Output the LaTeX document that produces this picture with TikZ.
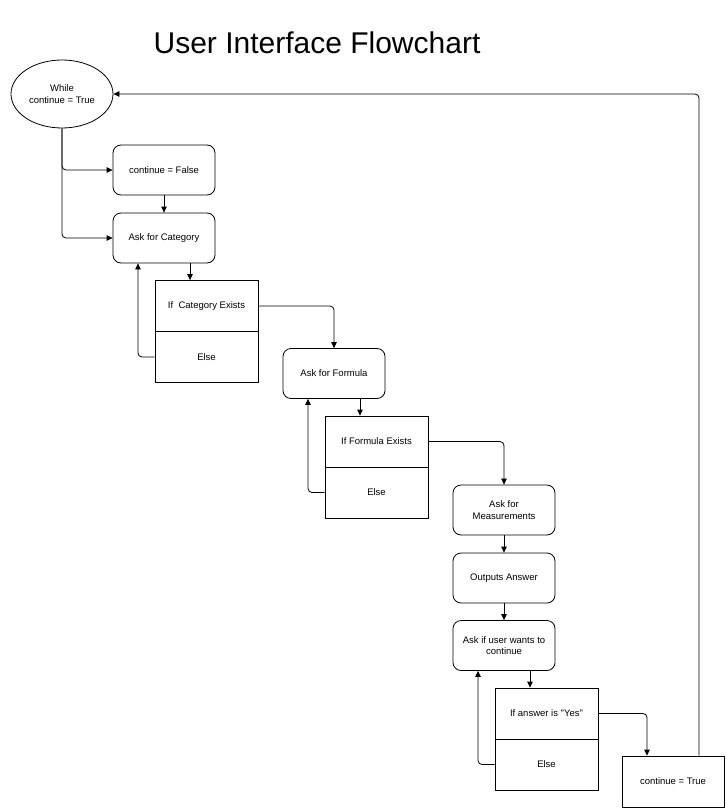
\documentclass[tikz,border=0pt]{standalone}
\usepackage{fontspec}
\setmainfont{Liberation Sans}[Ligatures=TeXOff]
\usepackage{tikz}
\usetikzlibrary{calc}
\usetikzlibrary{shapes.geometric}
\usetikzlibrary{arrows.meta}

\tikzset{
  every node/.style={font=\fontsize{9.5}{11.5}\selectfont, align=center},
  stepbox/.style={draw, rounded corners=8pt, minimum width=102pt, minimum height=50pt, inner sep=2pt},
  tablerow/.style={draw, minimum width=103pt, minimum height=51pt, inner sep=2pt},
  flow/.style={-{Triangle[length=6pt,width=5.5pt]}, rounded corners=4pt},
}

\begin{document}
\begin{tikzpicture}[x=1pt, y=-1pt, line width=0.8pt]
\useasboundingbox (0,0) rectangle (726,808);
\node[font=\fontsize{30}{36}\selectfont] (title) at (317,43) {User Interface Flowchart};

\node[draw, ellipse, minimum width=102pt, minimum height=68pt, inner sep=0pt] (loop) at (62,94) {While\\continue = True};
\node[stepbox] (cfalse) at (164,170) {continue = False};
\node[stepbox] (askcat) at (164,238) {Ask for Category};
\node[tablerow] (catif) at (206.5,306) {If~~Category Exists};
\node[tablerow] (catelse) at (206.5,357) {Else};
\node[stepbox] (askform) at (334,373.5) {Ask for Formula};
\node[tablerow] (formif) at (376.5,441.5) {If Formula Exists};
\node[tablerow] (formelse) at (376.5,492.5) {Else};
\node[stepbox] (askmeas) at (504,510) {Ask for\\Measurements};
\node[stepbox] (outputs) at (504,578) {Outputs Answer};
\node[stepbox] (askcont) at (504,645.5) {Ask if user wants to\\continue};
\node[tablerow] (ansif) at (546.5,713.5) {If answer is "Yes"};
\node[tablerow] (anselse) at (546.5,764.5) {Else};
\node[tablerow, minimum width=102pt] (ctrue) at (673,781.5) {continue = True};

\def\spacing{26}
\draw[flow] (loop.south) |- (cfalse.west);
\draw[flow] (loop.south) |- (askcat.west);
\draw[flow] (cfalse) -- (askcat);

\draw[flow] ($(askcat.south)+(\spacing,0)$) coordinate (catin) -- (catin |- catif.north);
\draw[flow] (catelse.west) -| ($(askcat.south)+(-\spacing,0)$);
\draw[flow] (catif.east) -| (askform.north);

\draw[flow] ($(askform.south)+(\spacing,0)$) coordinate (formin) -- (formin |- formif.north);
\draw[flow] (formelse.west) -| ($(askform.south)+(-\spacing,0)$);
\draw[flow] (formif.east) -| (askmeas.north);

\draw[flow] (askmeas) -- (outputs);
\draw[flow] (outputs) -- (askcont);

\draw[flow] ($(askcont.south)+(\spacing,0)$) coordinate (ansin) -- (ansin |- ansif.north);
\draw[flow] (anselse.west) -| ($(askcont.south)+(-\spacing,0)$);
\draw[flow] (ansif.east) -| ($(ctrue.north)+(-\spacing,0)$);
\draw[flow] ($(ctrue.north)+(\spacing,0)$) |- (loop.east);
\end{tikzpicture}
\end{document}
